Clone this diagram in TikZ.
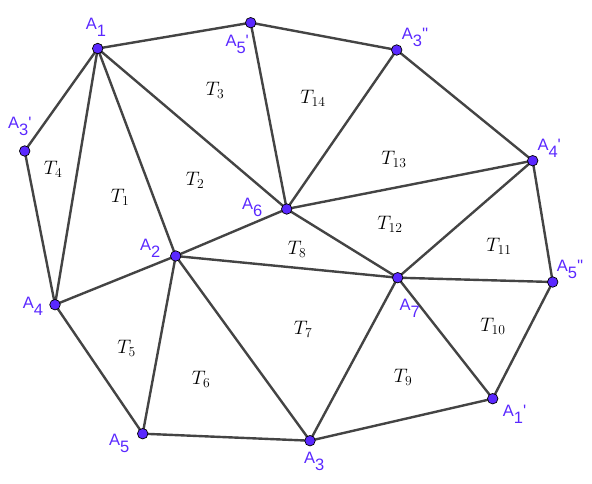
\RequirePackage{fix-cm}
\documentclass[tikz,border=0pt]{standalone}
\usepackage{fontspec}
\newfontfamily\lab{Liberation Sans}
\definecolor{ptc}{RGB}{90,40,255}
\definecolor{edc}{RGB}{68,68,68}
\tikzset{
  pt/.style={circle, fill=ptc, draw=black, line width=0.7pt, minimum size=10.5pt, inner sep=0pt},
  ed/.style={draw=edc, line width=2.4pt, line cap=round},
  lb/.style={anchor=base west, inner sep=0pt, text=ptc, font=\lab\fontsize{16.5}{18}\selectfont},
  tl/.style={inner sep=0pt, font=\fontsize{19.5}{22}\selectfont},
}
\newcommand{\sbs}[1]{\raisebox{-7pt}{#1}}
\begin{document}
\begin{tikzpicture}[x=1pt,y=-1pt]
\useasboundingbox (0,0) rectangle (592,484);
% vertices
\coordinate (A1) at (97.7,48.5);
\coordinate (A5p) at (250.7,22.7);
\coordinate (A3pp) at (396.7,50);
\coordinate (A4p) at (532.7,160.7);
\coordinate (A5pp) at (552.7,282);
\coordinate (A1p) at (492.7,398.7);
\coordinate (A3) at (310,440.7);
\coordinate (A5) at (142.7,433.7);
\coordinate (A4) at (55,304.7);
\coordinate (A3p) at (24.7,151);
\coordinate (A6) at (286.7,209);
\coordinate (A2) at (175.7,256);
\coordinate (A7) at (397.7,277.7);
% edges
\foreach \a/\b in {A1/A5p, A5p/A3pp, A3pp/A4p, A4p/A5pp, A5pp/A1p, A1p/A3, A3/A5, A5/A4, A4/A3p, A3p/A1,
  A1/A4, A1/A2, A1/A6, A5p/A6, A3pp/A6, A4p/A6, A4p/A7, A7/A5pp, A7/A1p, A7/A3, A7/A6, A7/A2, A2/A6, A2/A4, A2/A5, A2/A3}
  \draw[ed] (\a) -- (\b);
% points
\foreach \p in {A1, A5p, A3pp, A4p, A5pp, A1p, A3, A5, A4, A3p, A6, A2, A7}
  \node[pt] (n\p) at (\p) {};
% vertex labels
\node[lb] (lA1) at (85.7,30) {A\sbs{1}};
\node[lb] (lA5p) at (225.3,46.7) {A\sbs{5}'};
\node[lb] (lA3pp) at (401.7,39.3) {A\sbs{3}''};
\node[lb] (lA4p) at (537.3,150.7) {A\sbs{4}'};
\node[lb] (lA5pp) at (556.7,271.7) {A\sbs{5}''};
\node[lb] (lA1p) at (502.7,416.7) {A\sbs{1}'};
\node[lb] (lA3) at (304,463) {A\sbs{3}};
\node[lb] (lA5) at (109,445.7) {A\sbs{5}};
\node[lb] (lA4) at (22.7,308.3) {A\sbs{4}};
\node[lb] (lA3p) at (8,129) {A\sbs{3}'};
\node[lb] (lA6) at (242,209) {A\sbs{6}};
\node[lb] (lA2) at (140,250.7) {A\sbs{2}};
\node[lb] (lA7) at (399.3,310) {A\sbs{7}};
% triangle labels
\node[tl] (t1) at (120,197) {$T_{1}$};
\node[tl] (t2) at (195,180) {$T_{2}$};
\node[tl] (t3) at (215,90) {$T_{3}$};
\node[tl] (t4) at (53,169.5) {$T_{4}$};
\node[tl] (t5) at (126.5,348.5) {$T_{5}$};
\node[tl] (t6) at (201,379.5) {$T_{6}$};
\node[tl] (t7) at (303,329) {$T_{7}$};
\node[tl] (t8) at (297,249) {$T_{8}$};
\node[tl] (t9) at (403,377) {$T_{9}$};
\node[tl] (t10) at (493,326.5) {$T_{10}$};
\node[tl] (t11) at (499,246.5) {$T_{11}$};
\node[tl] (t12) at (390,224.5) {$T_{12}$};
\node[tl] (t13) at (394,159) {$T_{13}$};
\node[tl] (t14) at (313,98) {$T_{14}$};
\end{tikzpicture}
\end{document}
